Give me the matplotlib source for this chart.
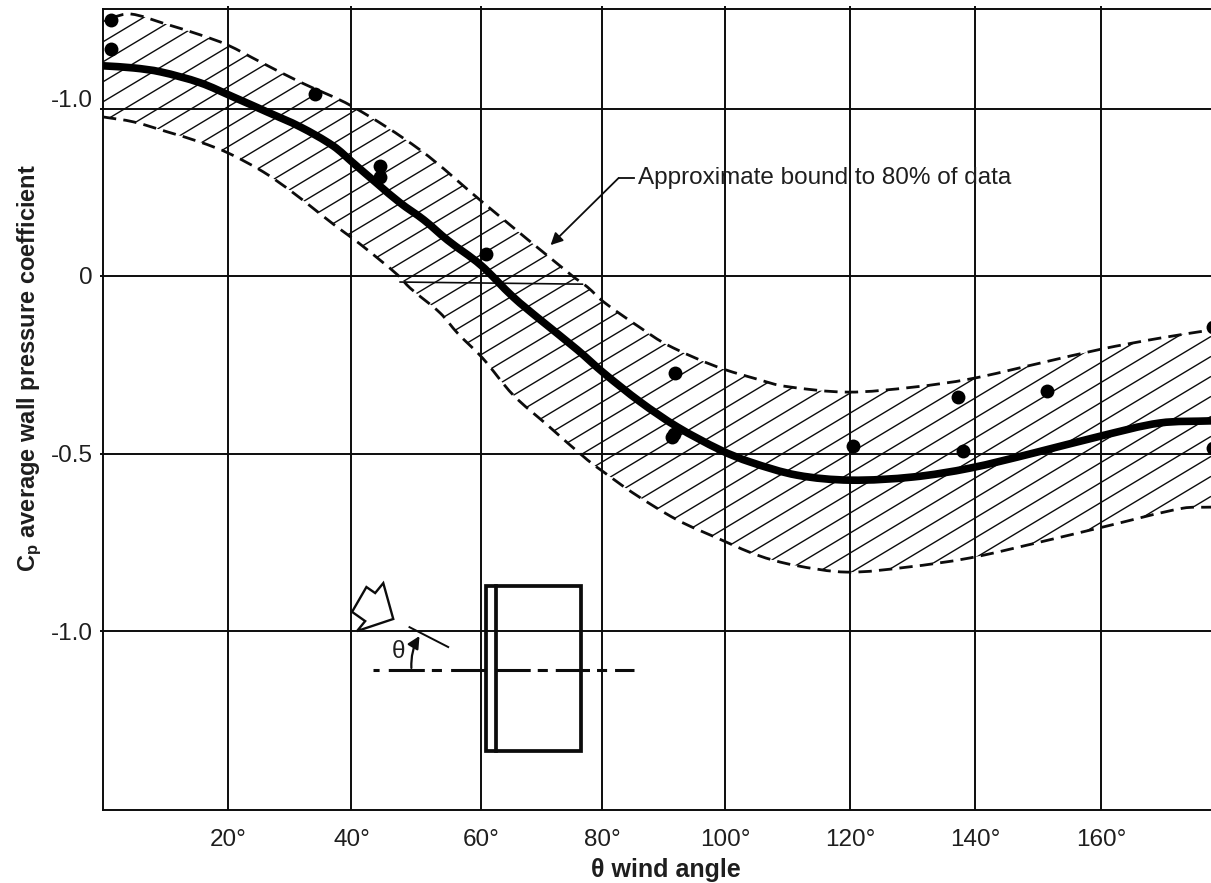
import numpy as np
import matplotlib
matplotlib.use("Agg")
import matplotlib.pyplot as plt
from matplotlib.collections import LineCollection
from matplotlib.patches import Polygon, Rectangle, PathPatch
from matplotlib.path import Path

plt.rcParams['font.family'] = ['Liberation Sans', 'DejaVu Sans']
plt.rcParams['mathtext.fontset'] = 'custom'
plt.rcParams['mathtext.rm'] = 'Liberation Sans'
plt.rcParams['mathtext.bf'] = 'Liberation Sans:bold'
plt.rcParams['mathtext.it'] = 'Liberation Sans:italic'

# ---- data ----
upper_x = [1.2, 4.4, 10.0, 15.6, 19.9, 25.2, 31.6, 39.8, 50.8, 60.8, 75.2, 77.6, 80.2, 86.1,
           90.4, 98.4, 105.3, 109.0, 119.2, 129.8, 138.9, 150.2, 159.9, 169.3, 177.5]
upper_y = [0.727, 0.738, 0.710, 0.679, 0.651, 0.603, 0.546, 0.479, 0.355, 0.208, 0.0, -0.031, -0.073, -0.146,
           -0.194, -0.256, -0.293, -0.310, -0.327, -0.313, -0.290, -0.245, -0.206, -0.175, -0.152]
lower_x = [0, 4.9, 10.3, 15.6, 20.1, 25.7, 30.5, 36.9, 39.9, 42.4, 47.2, 49.2, 54.0, 56.8, 60.8, 65.7,
           71.2, 77.6, 80.2, 84.9, 92.0, 98.4, 104.8, 110.6, 119.2, 128.8, 138.9, 150.2, 160.2, 173.0, 177.5]
lower_y = [0.448, 0.434, 0.406, 0.377, 0.346, 0.293, 0.234, 0.146, 0.107, 0.073, 0.003, -0.034, -0.104, -0.161, -0.231, -0.335,
           -0.420, -0.518, -0.552, -0.611, -0.687, -0.738, -0.786, -0.814, -0.834, -0.820, -0.794, -0.749, -0.707, -0.654, -0.651]
mean_x = [0, 4.9, 9.2, 15.6, 20.9, 26.3, 31.6, 36.9, 40.1, 44.0, 47.6, 51.4, 55.2, 60.5, 65.7, 70.1, 76.0, 80.2,
          86.1, 92.0, 98.9, 103.7, 111.2, 119.7, 129.8, 138.9, 149.0, 159.8, 169.3, 177.5]
mean_y = [0.592, 0.586, 0.575, 0.544, 0.504, 0.462, 0.420, 0.366, 0.318, 0.259, 0.206, 0.158, 0.101, 0.031, -0.059, -0.124, -0.208, -0.273,
          -0.355, -0.425, -0.490, -0.524, -0.561, -0.575, -0.566, -0.541, -0.499, -0.451, -0.414, -0.408]
point_x = [1.3, 1.3, 33.9, 44.3, 44.3, 61.4, 91.7, 91.5, 91.2, 120.1, 137.0, 137.7, 151.3, 177.9, 177.9]
point_y = [0.721, 0.639, 0.513, 0.310, 0.279, 0.062, -0.273, -0.445, -0.454, -0.479, -0.341, -0.493, -0.324, -0.144, -0.485]

x_grid = [20.0, 39.8, 60.6, 80.0, 99.7, 119.7, 139.7, 159.9]
x_tick_labels = ['20°', '40°', '60°', '80°', '100°', '120°', '140°', '160°']
y_grid = [0.470, 0.0, -0.501, -1.0]
y_label_pos = [0.50, 0.0, -0.50, -1.0]
y_tick_labels = ['-1.0', '0', '-0.5', '-1.0']

INK = '#0c0c0c'
TXT = '#1e1e1e'
FS = 17.5
ASPECT = 57.0  # px-per-unit ratio y/x used for curve tangents


def smooth_path(xv, yv):
    """Cubic Bezier path running through the read points."""
    p = np.column_stack([np.asarray(xv, float), np.asarray(yv, float) * ASPECT])
    n = len(p)
    tang = np.zeros_like(p)
    tang[1:-1] = p[2:] - p[:-2]
    tang[0] = p[1] - p[0]
    tang[-1] = p[-1] - p[-2]
    tang /= np.linalg.norm(tang, axis=1, keepdims=True)
    verts = [p[0]]
    codes = [Path.MOVETO]
    for i in range(n - 1):
        d = np.linalg.norm(p[i + 1] - p[i]) / 3
        verts += [p[i] + tang[i] * d, p[i + 1] - tang[i + 1] * d, p[i + 1]]
        codes += [Path.CURVE4] * 3
    verts = np.array(verts)
    verts[:, 1] /= ASPECT
    return verts, codes


fig = plt.figure(figsize=(12.11, 8.83), dpi=100)
ax = fig.add_axes([103 / 1211, 73 / 883, 1108 / 1211, 801 / 883])
ax.set_xlim(0, 177.5)
ax.set_ylim(-1.504, 0.752)
ax.spines['right'].set_visible(False)
for s in ['left', 'top', 'bottom']:
    ax.spines[s].set_linewidth(1.4)
    ax.spines[s].set_color(INK)

# grid
ax.vlines(x_grid, -1.504, 0.761, color=INK, lw=1.4, zorder=1, clip_on=False)
ax.hlines(y_grid, -0.5, 177.5, color=INK, lw=1.4, zorder=1, clip_on=False)

ax.set_xticks(x_grid, x_tick_labels, fontsize=FS, color=TXT)
ax.set_yticks(y_label_pos, y_tick_labels, fontsize=FS, color=TXT)
ax.tick_params(axis='both', length=0)
ax.tick_params(axis='x', pad=14)
ax.tick_params(axis='y', pad=7.5)

# hatched band
uv, uc = smooth_path(upper_x, upper_y)
lv, lc = smooth_path(lower_x, lower_y)
band_v = np.vstack([[0, uv[0, 1]], uv, [177.5, lv[-1, 1]], lv[::-1], [0, uv[0, 1]]])
band_c = [Path.MOVETO, Path.LINETO] + uc[1:] + [Path.LINETO, Path.LINETO] + lc[1:] + [Path.LINETO]
band_path = Path(band_v, band_c)
slope = 0.01055
spacing = 0.0563
segs = [[(0, c), (177.5, c + slope * 177.5)] for c in np.arange(-3.0, 1.0, spacing)]
hatch = LineCollection(segs, colors=INK, linewidths=1.0, zorder=2)
ax.add_collection(hatch)
hatch.set_clip_path(band_path, ax.transData)

# thin line across the band
ax.plot([47.6, 76.8], [-0.017, -0.023], color=INK, lw=1.2, zorder=2)

# bounds and mean
for v, c in ((uv, uc), (lv, lc)):
    ax.add_patch(PathPatch(Path(v, c), fill=False, ec=INK, lw=2.0,
                           ls=(0, (4.8, 2.6)), capstyle='butt', zorder=3))
mv, mc = smooth_path(mean_x, mean_y)
ax.add_patch(PathPatch(Path(mv, mc), fill=False, ec='black', lw=5.5, capstyle='butt', zorder=4))
ax.plot(point_x, point_y, 'o', color='black', ms=10, mew=0, zorder=5)

# annotation
ax.text(85.7, 0.276, 'Approximate bound to 80% of data', fontsize=FS, color=TXT,
        va='center', ha='left', zorder=6)
ax.plot([85.0, 82.6], [0.276, 0.276], color=INK, lw=1.3, zorder=6)
ax.annotate('', xy=(71.7, 0.087), xytext=(82.6, 0.276),
            arrowprops=dict(arrowstyle='-|>', color=INK, lw=1.3, mutation_scale=18,
                            shrinkA=0, shrinkB=0), zorder=6)

# schematic building
ax.add_patch(Rectangle((61.4, -1.338), 76.6 - 61.4, 1.338 - 0.873, fill=False, ec=INK, lw=2.7, zorder=6))
ax.plot([62.9, 62.9], [-1.338, -0.873], color=INK, lw=2.7, zorder=6)
ax.plot([43.3, 61.4], [-1.110, -1.110], color=INK, lw=2.2,
        ls=(15.4, (11.8, 2.3, 3.3, 3)), zorder=6)
ax.plot([62.9, 85.1], [-1.110, -1.110], color=INK, lw=2.2,
        ls=(0, (11.2, 2.3, 3.3, 2.6)), zorder=6)

# wind arrow
wind_x = [40.7, 46.5, 44.9, 43.6, 42.2, 39.9, 42.0]
wind_y = [-1.000, -0.966, -0.865, -0.893, -0.876, -0.946, -0.972]
ax.add_patch(Polygon(np.column_stack([wind_x, wind_y]), closed=True, fc='white', ec=INK, lw=1.7, zorder=6))

# angle
ax.plot([49.1, 55.3], [-0.989, -1.045], color=INK, lw=1.4, zorder=6)
ax.annotate('', xy=(50.7, -1.014), xytext=(49.4, -1.104),
            arrowprops=dict(arrowstyle='-|>', color=INK, lw=1.6, mutation_scale=18,
                            shrinkA=0, shrinkB=0, connectionstyle='arc3,rad=-0.15'), zorder=6)
ax.text(47.3, -1.059, 'θ', fontsize=FS, color=TXT, ha='center', va='center', zorder=6)

# axis titles
fig.text(666 / 1211, 1 - 870 / 883, 'θ wind angle', fontsize=18, fontweight='bold',
         color=TXT, ha='center', va='center')
fig.text(30 / 1211, 1 - 368 / 883, r'C$_{\mathbf{p}}$ average wall pressure coefficient', fontsize=17,
         fontweight='bold', color=TXT, rotation=90, ha='center', va='center')

fig.savefig('out.png', dpi=100)
